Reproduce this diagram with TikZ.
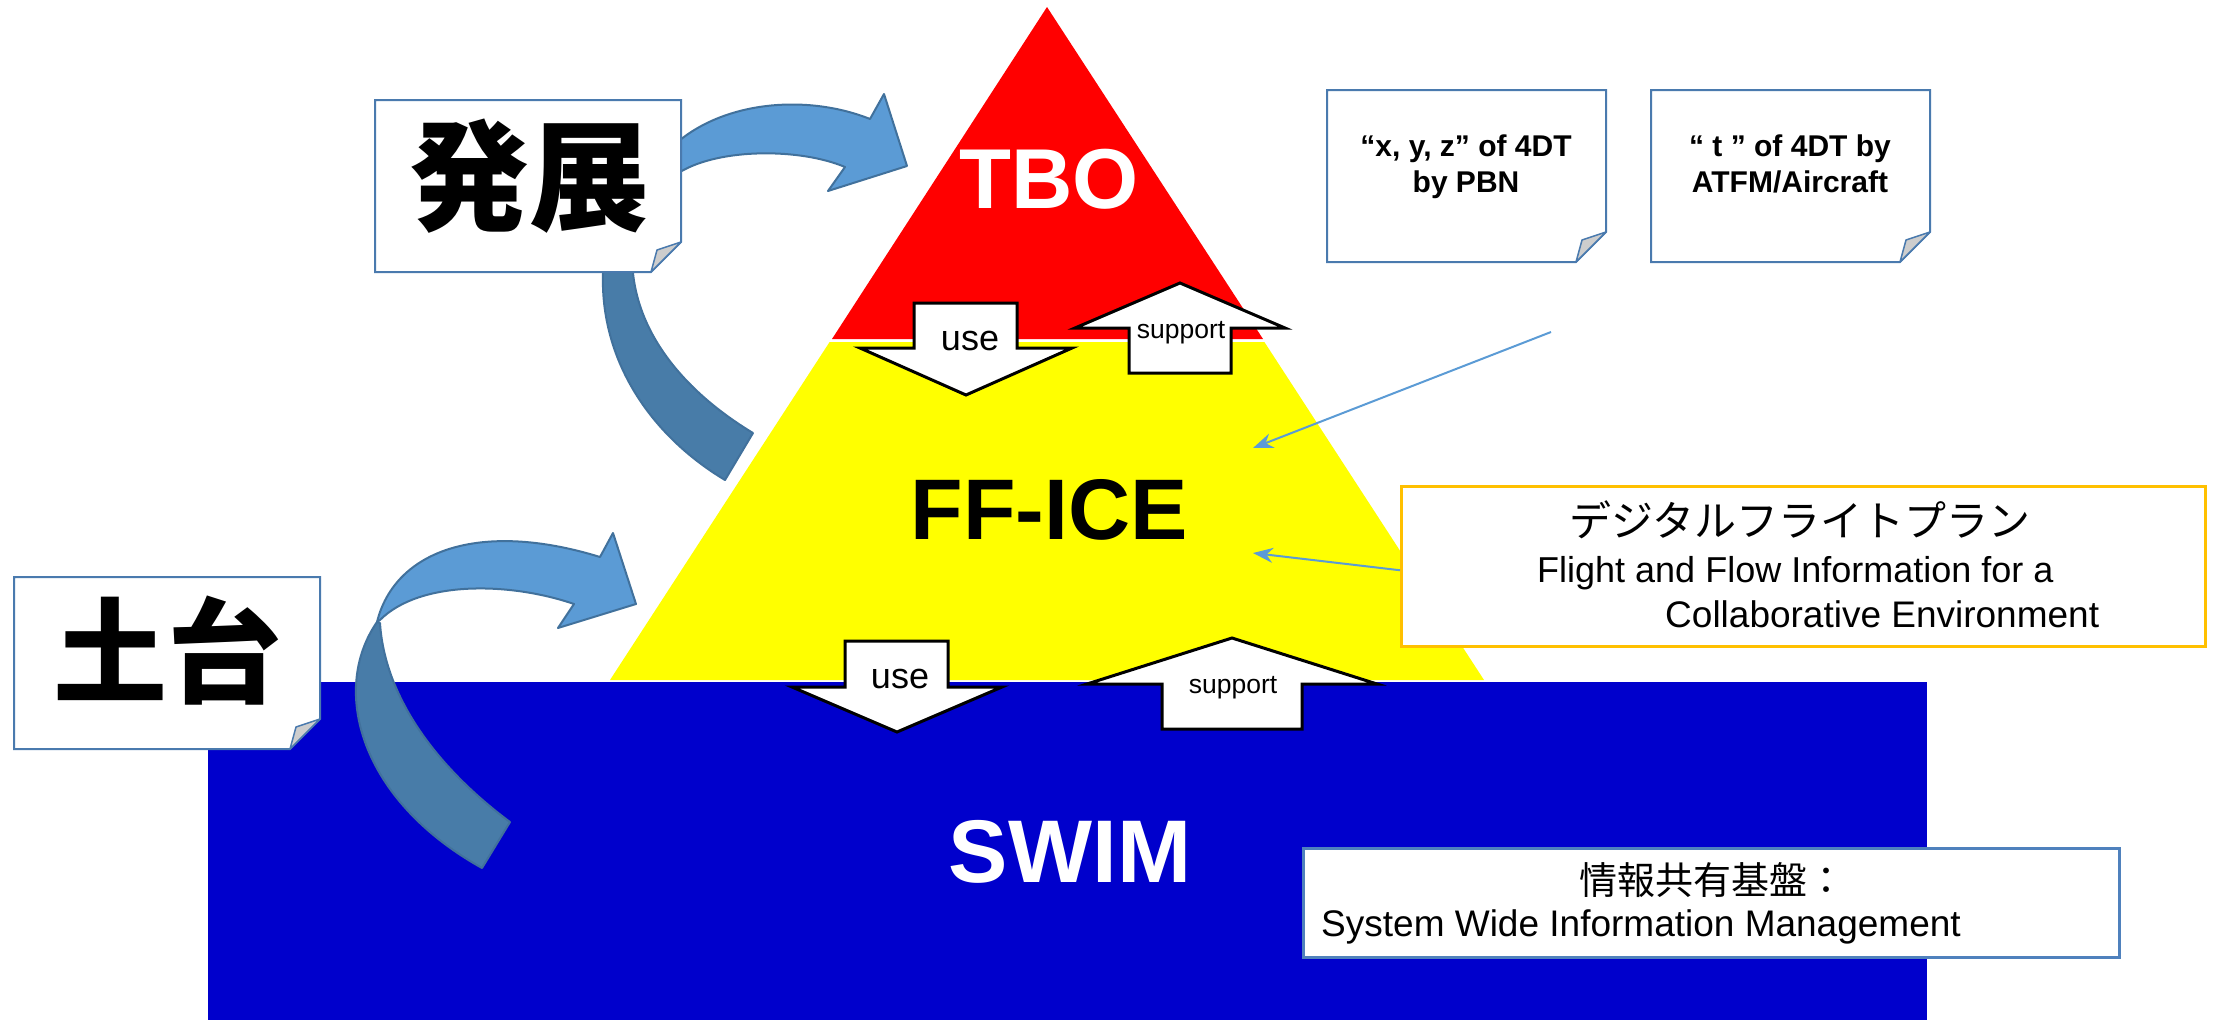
\documentclass[tikz,border=0pt]{standalone}
\usepackage{fontspec}
\setmainfont{Liberation Sans}
\newfontfamily\cjk{Noto Sans CJK JP}
\usetikzlibrary{arrows.meta,calc}

\definecolor{tbored}{HTML}{FF0000}
\definecolor{ffyellow}{HTML}{FFFF00}
\definecolor{swimblue}{HTML}{0000CC}
\definecolor{ribbonlight}{HTML}{5B9BD5}
\definecolor{ribbondark}{HTML}{487CA8}
\definecolor{ribbonedge}{HTML}{41719C}
\definecolor{noteedge}{HTML}{4A7AAE}
\definecolor{foldgrey}{HTML}{CDCDCD}
\definecolor{goldedge}{HTML}{FFC000}
\definecolor{swimedge}{HTML}{4F81BD}
\definecolor{pointer}{HTML}{5B9BD5}

\newcommand\fs[1]{\fontsize{#1}{#1}\selectfont}

% note card with a folded bottom-right corner: name, x1, y1, x2, y2
\newcommand\foldnote[5]{%
  \path[note] (#2,#3) -- (#4,#3) -- (#4,{#5-30}) -- ({#4-30},#5) -- (#2,#5) -- cycle;
  \path[fold] ({#4-30},#5) -- ({#4-24},{#5-22}) -- (#4,{#5-30}) -- cycle;
  \coordinate (#1) at ({(#2+#4)/2},{(#3+#5)/2});
}

\begin{document}
\begin{tikzpicture}[x=1pt,y=-1pt,
  blockarrow/.style={draw=black,line width=3pt,fill=white,line join=miter},
  ribbonfront/.style={fill=ribbonlight,draw=ribbonedge,line width=2pt,line join=round},
  ribbonback/.style={fill=ribbondark,draw=ribbonedge,line width=2pt,line join=round},
  note/.style={fill=white,draw=noteedge,line width=2pt},
  fold/.style={fill=foldgrey,draw=noteedge,line width=1.5pt,line join=round},
  pointerline/.style={draw=pointer,line width=2pt,-{Stealth[length=20pt,width=15pt]}},
  lbl/.style={inner sep=0pt,anchor=base},
]
\useasboundingbox (0,0) rectangle (2214,1020);

% pyramid layers
\fill[tbored] (1047,7) -- (1263,339) -- (832,339) -- cycle;
\fill[ffyellow] (829.6,342) -- (1264.4,342) -- (1484,680) -- (610,680) -- cycle;
\fill[swimblue] (208,682) rectangle (1927,1020);

% use / support block arrows between layers
\path[blockarrow] (914,303) -- (1017,303) -- (1017,348) -- (1072,348) -- (966,395)
  -- (860,348) -- (914,348) -- cycle;
\path[blockarrow] (1180,283) -- (1285,328) -- (1231,328) -- (1231,373) -- (1129,373)
  -- (1129,328) -- (1075,328) -- cycle;
\path[blockarrow] (845,641) -- (948,641) -- (948,687) -- (1002,687) -- (897,732)
  -- (792,687) -- (845,687) -- cycle;
\path[blockarrow] (1232,638) -- (1377,684) -- (1302,684) -- (1302,729) -- (1162,729)
  -- (1162,684) -- (1087,684) -- cycle;

\node[lbl] (useTop) at (970,350) {\fs{36}use};
\node[lbl] (supportTop) at (1181,338) {\fs{26.5}support};
\node[lbl] (useBottom) at (900,688) {\fs{36}use};
\node[lbl] (supportBottom) at (1233,693) {\fs{26.5}support};

% layer titles
\node[lbl,text=white] (tbo) at (1049,208) {\fs{85}\bfseries TBO};
\node[lbl] (ffice) at (1049,539) {\fs{86}\bfseries FF-ICE};
\node[lbl,text=white] (swim) at (1070,882) {\fs{89}\bfseries SWIM};

% curved ribbon arrow: development
\path[ribbonback] (603,230) -- (603,273) .. controls (600,360) and (650,435) .. (725,480)
  -- (753,433) .. controls (690,395) and (640,340) .. (633,273) -- (633,230) -- cycle;
\path[ribbonfront] (660,152) -- (680,140) .. controls (730,100) and (810,95) .. (870,119)
  -- (884,94) -- (907,166) -- (828,191) -- (845,167)
  .. controls (800,148) and (720,148) .. (680,172) -- (660,185) -- cycle;

% curved ribbon arrow: foundation
\path[ribbonback] (377,622) .. controls (330,690) and (360,800) .. (482,868)
  -- (510,822) .. controls (440,770) and (385,700) .. (380,623) -- cycle;
\path[ribbonfront] (377,622) .. controls (395,550) and (480,520) .. (600,557)
  -- (613,533) -- (636,604) -- (558,628) -- (574,604)
  .. controls (510,582) and (420,580) .. (380,620) -- cycle;

% note cards
\foldnote{hattenCard}{375}{100}{681}{272}
\foldnote{dodaiCard}{14}{577}{320}{749}
\foldnote{xyzCard}{1327}{90}{1606}{262}
\foldnote{timeCard}{1651}{90}{1930}{262}

\node[inner sep=0pt] (hatten) at (529,176) {\cjk\fs{120}\bfseries 発展};
\node[inner sep=0pt] (dodai) at (167,651) {\cjk\fs{114}\bfseries 土台};

\node[lbl] (xyzA) at (1466,156) {\fs{30}\bfseries “x, y, z” of 4DT};
\node[lbl] (xyzB) at (1466,192) {\fs{30}\bfseries by PBN};
\node[lbl] (timeA) at (1790,156) {\fs{30}\bfseries “ t ” of 4DT by};
\node[lbl] (timeB) at (1790,192) {\fs{30}\bfseries ATFM/Aircraft};

% description boxes
\node[draw=goldedge,line width=2.5pt,fill=white,minimum width=804pt,minimum height=160pt,
  inner sep=0pt,anchor=north west] (ffdesc) at (1400,485) {};
\node[inner sep=0pt] (ffdescJP) at (1800,520) {\cjk\fs{42}デジタルフライトプラン};
\node[lbl,anchor=base west] (ffdescA) at (1537,582) {\fs{36}Flight and Flow Information for a};
\node[lbl,anchor=base west] (ffdescB) at (1665,627) {\fs{37}Collaborative Environment};

\node[draw=swimedge,line width=2.5pt,fill=white,minimum width=816pt,minimum height=109pt,
  inner sep=0pt,anchor=north west] (swimdesc) at (1302,847) {};
\node[inner sep=0pt,anchor=west] (swimdescJP) at (1579,880) {\cjk\fs{38}情報共有基盤：};
\node[lbl,anchor=base west] (swimdescA) at (1321,936) {\fs{37}System Wide Information Management};

% pointers into the FF-ICE layer
\coordinate (trajStart) at (1551,332);
\coordinate (trajTip) at (1253,448);
\coordinate (planTip) at (1253,553);
\draw[pointerline] (trajStart) -- (trajTip);
\draw[pointerline] ([yshift=-4pt]ffdesc.west) -- (planTip);

\end{tikzpicture}
\end{document}
